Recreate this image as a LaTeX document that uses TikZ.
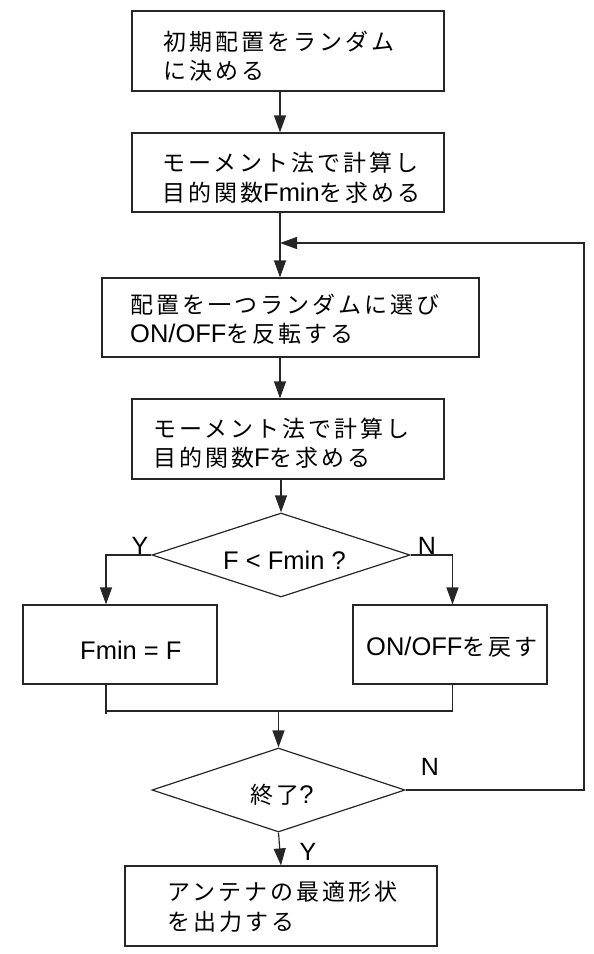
\documentclass[tikz,border=0pt]{standalone}
\usepackage{fontspec}
\setmainfont{Liberation Sans}
\newfontfamily\jpfont[LetterSpace=13]{Noto Sans CJK JP}
\newcommand\JP[1]{{\jpfont\fontsize{23}{29.5}\selectfont #1}}
\usetikzlibrary{arrows.meta,shapes.geometric,calc}
\begin{document}
\begin{tikzpicture}[x=1pt,y=-1pt,
  line/.style={draw=black!85,line width=1.2pt},
  arr/.style={line,-{Triangle[length=17pt,width=12pt]}},
  box/.style={line,rectangle,inner sep=0pt},
  dia/.style={line,diamond,inner sep=0pt},
  txt/.style={inner sep=0pt,align=left,font=\fontsize{25.5}{29.5}\selectfont},
  lbl/.style={inner sep=0pt,font=\fontsize{25}{29}\selectfont}]
\useasboundingbox (0,0) rectangle (594,954);

% column guides
\coordinate (col) at (280,0);
\coordinate (yl) at (106,0);
\coordinate (nl) at (452.5,0);
\coordinate (jn) at (0,711);
\coordinate (fb) at (584,243);

% process boxes and decisions
\node[box,minimum width=312pt,minimum height=80pt] (b1) at (288,51) {};
\node[box,minimum width=312pt,minimum height=79pt] (b2) at (288,172.5) {};
\node[box,minimum width=377pt,minimum height=79pt] (b3) at (290.5,317.5) {};
\node[box,minimum width=312pt,minimum height=80pt] (b4) at (288,439) {};
\node[dia,minimum width=258pt,minimum height=84pt] (d1) at (281,555) {};
\node[box,minimum width=194pt,minimum height=79pt] (bY) at (120,644.5) {};
\node[box,minimum width=194pt,minimum height=79pt] (bN) at (450,644.5) {};
\node[dia,minimum width=253pt,minimum height=84pt] (d2) at (278.5,790) {};
\node[box,minimum width=312pt,minimum height=80pt] (b5) at (281,906) {};

% texts
\node[txt,anchor=west] (t1) at (163,56) {\JP{初期配置をランダム}\\\JP{に決める}};
\node[txt,anchor=west] (t2) at (162,177.5) {\JP{モーメント法で計算し}\\\JP{目的関数}Fmin\JP{を求める}};
\node[txt,anchor=west] (t3) at (130,319) {\JP{配置を一つランダムに選び}\\ON/OFF\JP{を反転する}};
\node[txt,anchor=west] (t4) at (153,443) {\JP{モーメント法で計算し}\\\JP{目的関数}F\JP{を求める}};
\node[txt] (t7) at (284.5,560) {F < Fmin ?};
\node[txt,anchor=west] (t5) at (80,650) {Fmin = F};
\node[txt,anchor=west] (t6) at (366,647) {ON/OFF\JP{を戻す}};
\node[txt] (t8) at (282,795) {\JP{終了}?};
\node[txt,anchor=west] (t9) at (167,907) {\JP{アンテナの最適形状}\\\JP{を出力する}};

% branch labels
\node[lbl] (lY1) at (140,546) {Y};
\node[lbl] (lN1) at (427,546) {N};
\node[lbl] (lN2) at (430,767) {N};
\node[lbl] (lY2) at (308,852) {Y};

% main flow
\draw[arr] (b1.south -| col) -- (b2.north -| col);
\draw[arr] (b2.south -| col) -- (b3.north -| col);
\draw[arr] (b3.south -| col) -- (b4.north -| col);
\draw[arr] (b4.south -| d1.north) -- (d1.north);

% comparison branches
\draw[arr] (d1.west) -| (bY.north -| yl);
\draw[arr] (d1.east) -| (bN.north -| nl);
\draw[line] (bY.south -| yl) -- ($(jn -| yl)+(0,3)$);
\draw[line] (bN.south -| nl) -- (jn -| nl);
\draw[line] (jn -| yl) -- (jn -| nl);
\draw[arr] (jn -| d2.north) -- (d2.north);

% loop back and finish
\draw[arr] (d2.east) -- (d2.east -| fb) -- (fb) -- (fb -| col);
\draw[arr] (d2.south) -- (b5.north);
\end{tikzpicture}
\end{document}
